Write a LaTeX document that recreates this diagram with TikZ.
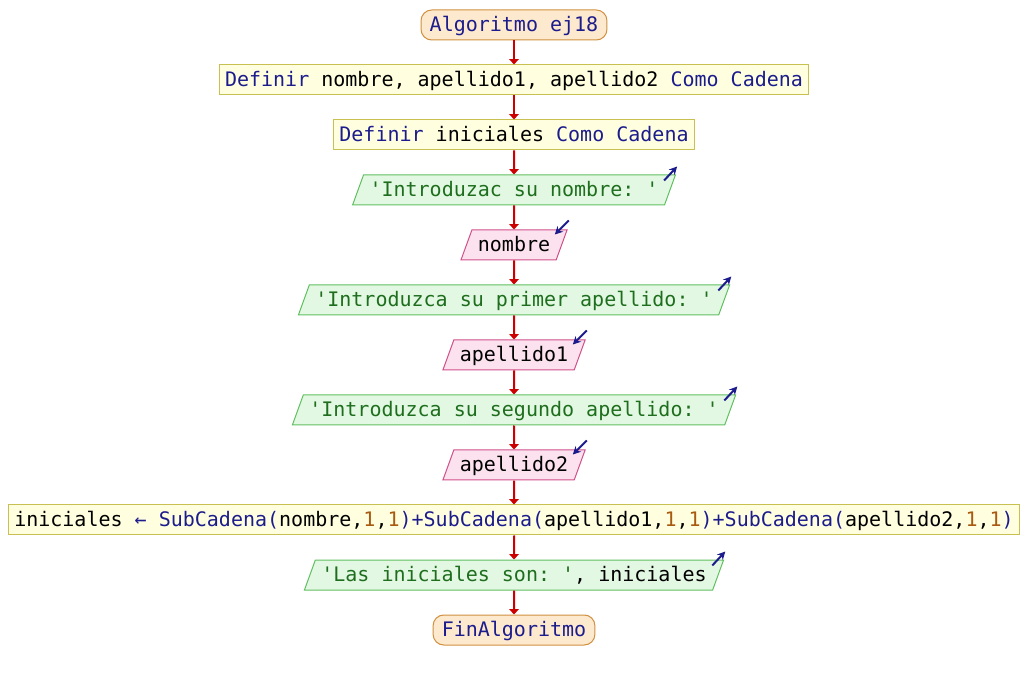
\documentclass[tikz,border=0pt]{standalone}
\usepackage{fontspec}
\setmonofont{DejaVu Sans Mono}
\usetikzlibrary{arrows.meta}
\usetikzlibrary{shapes.geometric}

\definecolor{kwdcol}{HTML}{1C1C8C}
\definecolor{strcol}{HTML}{1E6E1E}
\definecolor{numcol}{HTML}{A85A10}
\definecolor{flowcol}{HTML}{CC0000}
\definecolor{termfill}{HTML}{FDE9CE}
\definecolor{termline}{HTML}{D09040}
\definecolor{procfill}{HTML}{FFFFE0}
\definecolor{procline}{HTML}{C8C050}
\definecolor{outfill}{HTML}{E2F8E2}
\definecolor{outline}{HTML}{60C060}
\definecolor{infill}{HTML}{FCE2EE}
\definecolor{inline}{HTML}{D0508A}

\newcommand{\kwd}[1]{\textcolor{kwdcol}{#1}}
\newcommand{\strg}[1]{\textcolor{strcol}{#1}}
\newcommand{\numb}[1]{\textcolor{numcol}{#1}}

\begin{document}
\begin{tikzpicture}[x=0.75pt,y=-0.75pt,
		font=\ttfamily\fontsize{15pt}{18pt}\selectfont,
		every node/.style={text height=12.3pt,text depth=2.7pt,inner ysep=3.75pt,line width=0.75pt},
		terminal/.style={draw=termline,fill=termfill,rounded corners=8pt,inner xsep=6.5pt},
		process/.style={draw=procline,fill=procfill,inner xsep=4.5pt},
		output/.style={trapezium,trapezium left angle=70,trapezium right angle=110,
			draw=outline,fill=outfill,inner xsep=4.5pt},
		input/.style={output,draw=inline,fill=infill},
		flow/.style={draw=flowcol,line width=1.5pt,-{Triangle[length=4pt,width=7pt]}},
		icon/.style={draw=kwdcol,line width=1.5pt,-{Stealth[length=6pt,width=6pt]}}]
		\useasboundingbox (0,0) rectangle (1028,680);
		% blocks
		\node[terminal] (start) at (514,25) {\kwd{Algoritmo ej18}};
		\node[process] (def1) at (514,80)
		{\kwd{Definir} nombre, apellido1, apellido2 \kwd{Como Cadena}};
		\node[process] (def2) at (514,135)
		{\kwd{Definir} iniciales \kwd{Como Cadena}};
		\node[output] (out1) at (514,190) {\strg{'Introduzac su nombre: '}};
		\node[input] (in1) at (514,245) {nombre};
		\node[output] (out2) at (514,300)
		{\strg{'Introduzca su primer apellido: '}};
		\node[input] (in2) at (514,355) {apellido1};
		\node[output] (out3) at (514,410)
		{\strg{'Introduzca su segundo apellido: '}};
		\node[input] (in3) at (514,465) {apellido2};
		\node[process] (asig) at (514,520)
		{iniciales \kwd{←} \kwd{SubCadena(}nombre,\numb{1},\numb{1}\kwd{)+SubCadena(}apellido1,\numb{1},\numb{1}\kwd{)+SubCadena(}apellido2,\numb{1},\numb{1}\kwd{)}};
		\node[output] (out4) at (514,575)
		{\strg{'Las iniciales son: '}, iniciales};
		\node[terminal] (stop) at (514,630) {\kwd{FinAlgoritmo}};
		% flow
		\draw[flow] (start) -- (def1);
		\draw[flow] (def1) -- (def2);
		\draw[flow] (def2) -- (out1);
		\draw[flow] (out1) -- (in1);
		\draw[flow] (in1) -- (out2);
		\draw[flow] (out2) -- (in2);
		\draw[flow] (in2) -- (out3);
		\draw[flow] (out3) -- (in3);
		\draw[flow] (in3) -- (asig);
		\draw[flow] (asig) -- (out4);
		\draw[flow] (out4) -- (stop);
		% read / write marks
		\draw[icon] ([shift={(-12,6)}]out1.top right corner) -- ([shift={(1,-8)}]out1.top right corner);
		\draw[icon] ([shift={(-12,6)}]out2.top right corner) -- ([shift={(1,-8)}]out2.top right corner);
		\draw[icon] ([shift={(-12,6)}]out3.top right corner) -- ([shift={(1,-8)}]out3.top right corner);
		\draw[icon] ([shift={(-12,6)}]out4.top right corner) -- ([shift={(1,-8)}]out4.top right corner);
		\draw[icon] ([shift={(1,-9)}]in1.top right corner) -- ([shift={(-13,5)}]in1.top right corner);
		\draw[icon] ([shift={(1,-9)}]in2.top right corner) -- ([shift={(-13,5)}]in2.top right corner);
		\draw[icon] ([shift={(1,-9)}]in3.top right corner) -- ([shift={(-13,5)}]in3.top right corner);
	\end{tikzpicture}
\end{document}
